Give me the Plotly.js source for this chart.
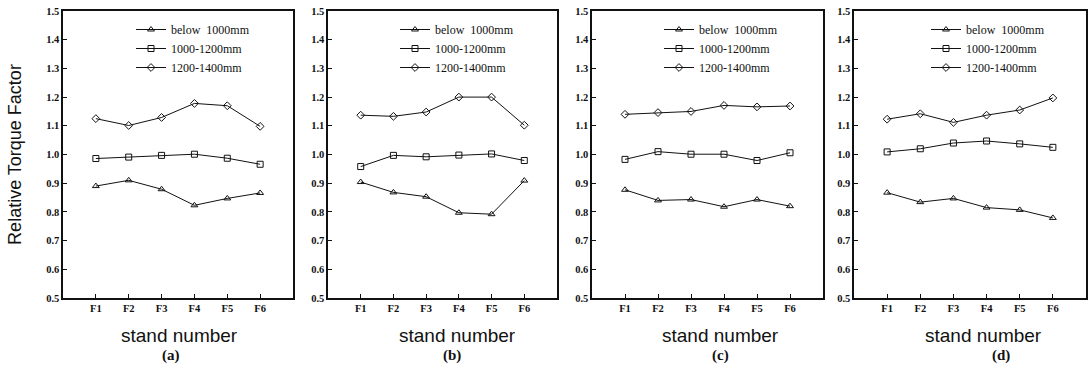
<!DOCTYPE html>
<html>
<head>
<meta charset="utf-8">
<script src="https://cdn.plot.ly/plotly-3.0.1.min.js"></script>
<style>html,body{margin:0;padding:0;background:#fff;}#chart{width:1091px;height:380px;}</style>
</head>
<body>
<div id="chart"></div>
<script>
const stands = ["F1", "F2", "F3", "F4", "F5", "F6"];
const standPos = [1, 2, 3, 4, 5, 6];
const seriesNames = ["below  1000mm", "1000-1200mm", "1200-1400mm"];
const panelLabels = ["(a)", "(b)", "(c)", "(d)"];
const yTicks = [0.5, 0.6, 0.7, 0.8, 0.9, 1.0, 1.1, 1.2, 1.3, 1.4, 1.5];

// panel (a)
const aBelow1000 = [0.890, 0.910, 0.879, 0.823, 0.847, 0.866];
const a1000to1200 = [0.986, 0.991, 0.997, 1.001, 0.987, 0.966];
const a1200to1400 = [1.125, 1.101, 1.129, 1.178, 1.170, 1.098];
// panel (b)
const bBelow1000 = [0.904, 0.868, 0.853, 0.797, 0.792, 0.909];
const b1000to1200 = [0.958, 0.997, 0.992, 0.998, 1.002, 0.979];
const b1200to1400 = [1.137, 1.133, 1.148, 1.200, 1.200, 1.102];
// panel (c)
const cBelow1000 = [0.877, 0.840, 0.843, 0.818, 0.843, 0.820];
const c1000to1200 = [0.983, 1.010, 1.001, 1.001, 0.979, 1.006];
const c1200to1400 = [1.140, 1.146, 1.150, 1.171, 1.166, 1.169];
// panel (d)
const dBelow1000 = [0.867, 0.834, 0.847, 0.815, 0.807, 0.779];
const d1000to1200 = [1.009, 1.020, 1.040, 1.047, 1.037, 1.025];
const d1200to1400 = [1.123, 1.142, 1.112, 1.137, 1.155, 1.197];

const panels = [
  [aBelow1000, a1000to1200, a1200to1400],
  [bBelow1000, b1000to1200, b1200to1400],
  [cBelow1000, c1000to1200, c1200to1400],
  [dBelow1000, d1000to1200, d1200to1400]
];

(function () {
const W = 1091, H = 380;
const px = v => v / W;
const py = v => 1 - v / H;
const boxes = [[63, 293], [328, 557], [592, 823], [854, 1086]];
const plotTop = 11, plotBottom = 298;
const legendX = [131, 395, 659, 926];
const standLabelX = [179, 457, 720, 983];
const panelLabelX = [171, 452, 720, 1001];

const symbols = ["triangle-up-open", "square-open", "diamond-open"];

const traces = [];
panels.forEach((ser, p) => {
  ser.forEach((vals, s) => {
    traces.push({
      x: standPos, y: vals, type: "scatter", mode: "lines+markers",
      name: seriesNames[s],
      xaxis: p === 0 ? "x" : "x" + (p + 1),
      yaxis: p === 0 ? "y" : "y" + (p + 1),
      legend: p === 0 ? "legend" : "legend" + (p + 1),
      line: {color: "#111", width: 1},
      marker: {symbol: symbols[s], size: 6, color: "#111", line: {width: 1, color: "#111"}},
      cliponaxis: false
    });
  });
});

const layout = {
  width: W, height: H,
  margin: {l: 0, r: 0, t: 0, b: 0},
  paper_bgcolor: "#fff", plot_bgcolor: "#fff",
  font: {family: "Liberation Serif", color: "#111", size: 10},
  annotations: [],
  showlegend: true
};

const tickFont = {family: "Liberation Serif", size: 10.5, color: "#111", weight: "bold"};

boxes.forEach((b, p) => {
  const xk = p === 0 ? "xaxis" : "xaxis" + (p + 1);
  const yk = p === 0 ? "yaxis" : "yaxis" + (p + 1);
  const xa = p === 0 ? "x" : "x" + (p + 1);
  const ya = p === 0 ? "y" : "y" + (p + 1);
  layout[xk] = {
    domain: [px(b[0]), px(b[1])], anchor: ya, range: [0, 7],
    tickmode: "array", tickvals: standPos, ticktext: stands,
    ticks: "inside", ticklen: 4, tickcolor: "#111",
    showline: true, linecolor: "#111", linewidth: 1.6, mirror: true,
    showgrid: false, zeroline: false, tickfont: tickFont, fixedrange: true
  };
  layout[yk] = {
    domain: [py(plotBottom), py(plotTop)], anchor: xa, range: [0.5, 1.5],
    tickmode: "array", tickvals: yTicks, tickformat: ".1f",
    ticks: "inside", ticklen: 4, tickcolor: "#111",
    showline: true, linecolor: "#111", linewidth: 1.6, mirror: true,
    showgrid: false, zeroline: false, tickfont: tickFont, fixedrange: true
  };
  const lk = p === 0 ? "legend" : "legend" + (p + 1);
  layout[lk] = {
    x: px(legendX[p]), y: py(15), xanchor: "left", yanchor: "top",
    bgcolor: "rgba(0,0,0,0)", borderwidth: 0,
    font: {family: "Liberation Serif", size: 12, color: "#111"},
    tracegroupgap: 0, itemwidth: 30
  };
  layout.annotations.push({
    xref: "paper", yref: "paper", x: px(standLabelX[p]), y: py(335),
    text: "stand number", showarrow: false, xanchor: "center", yanchor: "middle",
    font: {family: "Liberation Sans", size: 19, color: "#111"}
  });
  layout.annotations.push({
    xref: "paper", yref: "paper", x: px(panelLabelX[p]), y: py(355),
    text: "<b>" + panelLabels[p] + "</b>", showarrow: false, xanchor: "center", yanchor: "middle",
    font: {family: "Liberation Serif", size: 15, color: "#111"}
  });
});

layout.yaxis.title = {text: "Relative Torque Factor", font: {family: "Liberation Sans", size: 18, color: "#111"}, standoff: 20};

Plotly.newPlot("chart", traces, layout, {displayModeBar: false, staticPlot: true});
})();
</script>
</body>
</html>
